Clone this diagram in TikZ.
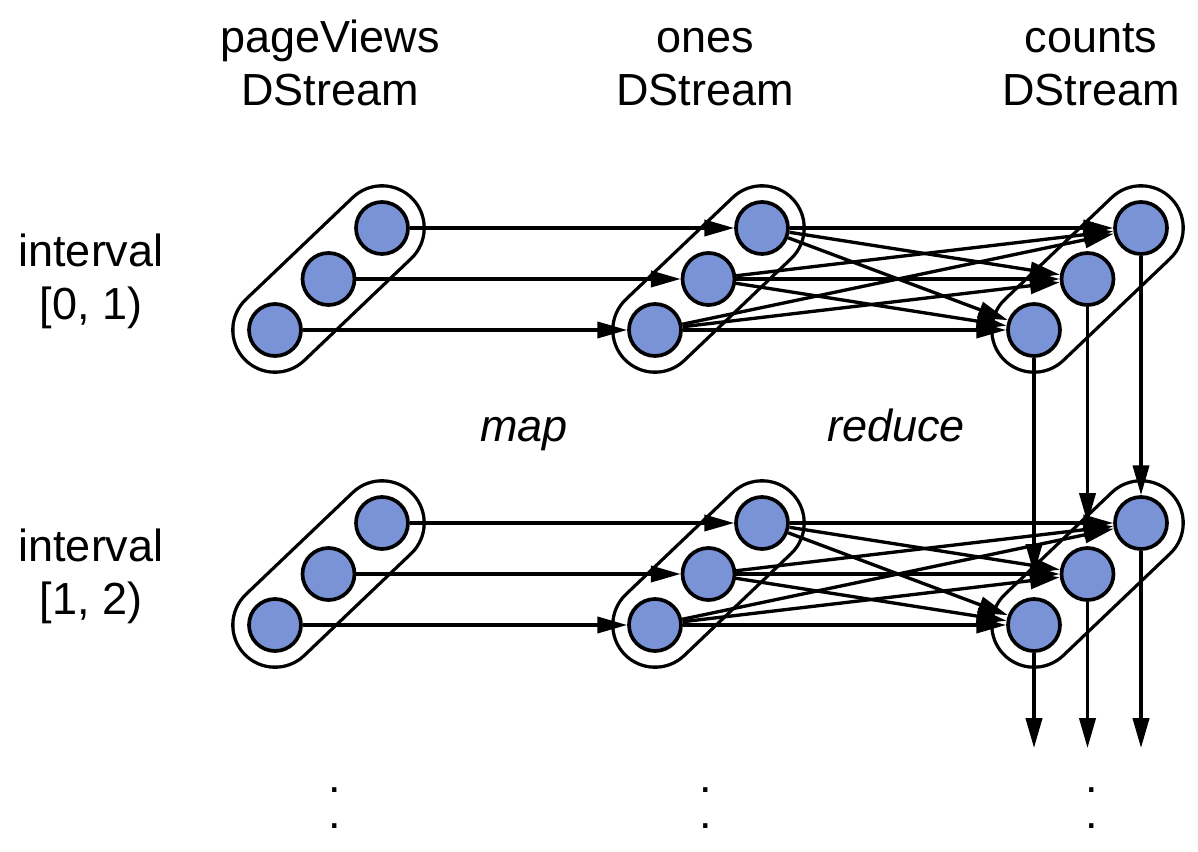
\documentclass[tikz,border=0pt]{standalone}
\usepackage{fontspec}
\setmainfont{Liberation Sans}
\usepackage{xcolor}
\usetikzlibrary{arrows.meta}
\definecolor{ballblue}{RGB}{122,146,214}

\begin{document}
\begin{tikzpicture}[
  ball/.style={circle, draw, line width=1.05pt, fill=ballblue, minimum size=5.2mm, inner sep=0pt},
  pod/.style={draw, line width=0.95pt, double=white, double distance=8.1mm, line cap=round},
  flow/.style={line width=0.95pt, -{Triangle[length=8.5pt,width=4.6pt]}},
  lbl/.style={align=center, font=\fontsize{12.8}{14.8}\selectfont},
  dots/.style={anchor=base, font=\fontsize{12.8}{14.8}\selectfont}
]
\useasboundingbox (0,0) rectangle (11.98,-8.52);
% partitions of each DStream
\foreach \g/\x in {p/2.75,o/6.55,c/10.34}
  \foreach \r/\y in {1/-3.30,2/-6.25} {
    \draw[pod] (\x,\y) -- ++(1.07,1.02);
    \node[ball] (\g\r1) at (\x,\y) {};
    \node[ball] (\g\r2) at (\x+0.535,\y+0.51) {};
    \node[ball] (\g\r3) at (\x+1.07,\y+1.02) {};
  }
% map
\foreach \r in {1,2}
  \foreach \i in {1,2,3}
    \draw[flow] (p\r\i.east) -- (o\r\i.west);
% reduce
\foreach \r in {1,2}
  \foreach \i in {1,2,3}
    \foreach \j in {1,2,3}
      \draw[flow] (o\r\i) -- (c\r\j);
% state carried to the next interval
\coordinate (bottom) at (0,-7.48);
\draw[flow] (c11) -- (c11 |- c22.west);
\draw[flow] (c12) -- (c12 |- c23.west);
\draw[flow] (c13) -- (c23);
\foreach \i in {1,2,3}
  \draw[flow] (c2\i) -- (c2\i |- bottom);
% labels
\node[lbl] (pvname) at (3.30,-0.686) {\strut pageViews\\\strut DStream};
\node[lbl] (onesname) at (7.05,-0.686) {\strut ones\\\strut DStream};
\node[lbl] (countsname) at (10.91,-0.686) {\strut counts\\\strut DStream};
\node[lbl] (int0) at (0.91,-2.826) {\strut interval\\\strut [0, 1)};
\node[lbl] (int1) at (0.91,-5.776) {\strut interval\\\strut [1, 2)};
\node[lbl, anchor=base, font=\fontsize{12.8}{14.8}\selectfont\itshape] (mapname) at (5.24,-4.42) {map};
\node[lbl, anchor=base, font=\fontsize{12.8}{14.8}\selectfont\itshape] (reducename) at (8.96,-4.42) {reduce};
\node[dots] (pvdots) at (3.35,-8.28) {\rlap{\raisebox{9.96pt}{.}}.};
\node[dots] (onesdots) at (7.06,-8.28) {\rlap{\raisebox{9.96pt}{.}}.};
\node[dots] (countsdots) at (10.92,-8.28) {\rlap{\raisebox{9.96pt}{.}}.};
\end{tikzpicture}
\end{document}
